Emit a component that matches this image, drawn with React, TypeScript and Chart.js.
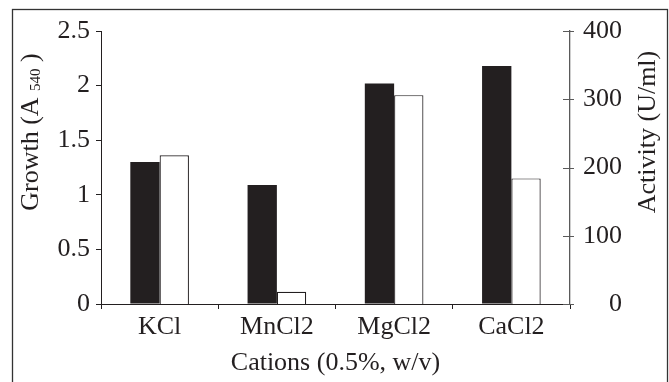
import React, { useEffect, useRef } from "react";
import { Chart, registerables } from "chart.js";

Chart.register(...registerables);

const categories = ["KCl", "MnCl2", "MgCl2", "CaCl2"];
const growthValues = [1.3, 1.09, 2.02, 2.18];
const activityValues = [218, 18, 306, 184];
const growthTicks = [0, 0.5, 1, 1.5, 2, 2.5];
const activityTicks = [0, 100, 200, 300, 400];

const xTitle = "Cations (0.5%, w/v)";
const yTitleMain = "Growth (A ";
const yTitleSub = "540";
const yTitleEnd = " )";
const y1Title = "Activity (U/ml)";

const FONT = "'Liberation Serif', 'Times New Roman', serif";
const INK = "#231f20";
const FS = 26;

const decorPlugin = {
  id: "decor",
  beforeDraw(chart: any) {
    const { ctx, width, height } = chart;
    ctx.save();
    ctx.fillStyle = "#ffffff";
    ctx.fillRect(0, 0, width, height);
    ctx.strokeStyle = "#333333";
    ctx.lineWidth = 1.3;
    ctx.strokeRect(12.5, 9.5, 655, height + 20);
    ctx.restore();
  },
  afterDraw(chart: any) {
    const { ctx, chartArea } = chart;
    const y1 = chart.scales.y1;
    ctx.save();
    // right axis tick marks crossing the axis
    ctx.strokeStyle = "#5a5a5a";
    ctx.lineWidth = 1;
    activityTicks.forEach((v) => {
      const py = Math.round(y1.getPixelForValue(v)) + 0.5;
      ctx.beginPath();
      ctx.moveTo(chartArea.right - 7, py);
      ctx.lineTo(chartArea.right + 4, py);
      ctx.stroke();
    });

    const cy = chartArea.top + 101;
    // left title with subscript
    ctx.fillStyle = INK;
    ctx.textBaseline = "alphabetic";
    ctx.textAlign = "left";
    const big = `${FS}px ${FONT}`;
    const small = `15px ${FONT}`;
    ctx.font = big;
    const w1 = ctx.measureText(yTitleMain).width;
    const w3 = ctx.measureText(yTitleEnd).width;
    ctx.font = small;
    const w2 = ctx.measureText(yTitleSub).width;
    const total = w1 + w2 + w3;
    ctx.save();
    ctx.translate(37.5, cy);
    ctx.rotate(-Math.PI / 2);
    let x = -total / 2;
    ctx.font = big;
    ctx.fillText(yTitleMain, x, 0);
    x += w1;
    ctx.font = small;
    ctx.fillText(yTitleSub, x, 2);
    x += w2;
    ctx.font = big;
    ctx.fillText(yTitleEnd, x, 0);
    ctx.restore();

    // right title
    ctx.save();
    ctx.font = big;
    ctx.textAlign = "center";
    ctx.translate(654.5, cy);
    ctx.rotate(-Math.PI / 2);
    ctx.fillText(y1Title, 0, 0);
    ctx.restore();

    ctx.restore();
  },
};

export default function App() {
  const ref = useRef<HTMLCanvasElement | null>(null);

  useEffect(() => {
    if (!ref.current) return;
    const chart = new Chart(ref.current, {
      type: "bar",
      data: {
        labels: categories,
        datasets: [
          {
            label: "Growth",
            data: growthValues,
            yAxisID: "y",
            backgroundColor: INK,
            borderColor: INK,
            borderWidth: 0,
            categoryPercentage: 0.5,
            barPercentage: 1.0,
          },
          {
            label: "Activity",
            data: activityValues,
            yAxisID: "y1",
            backgroundColor: "#ffffff",
            borderColor: INK,
            borderWidth: 1.2,
            borderSkipped: "bottom",
            categoryPercentage: 0.5,
            barPercentage: 1.0,
          },
        ],
      },
      options: {
        animation: false,
        responsive: true,
        maintainAspectRatio: false,
        layout: { padding: { top: 31, left: 0, right: 47, bottom: 0 } },
        plugins: {
          legend: { display: false },
          tooltip: { enabled: false },
        },
        scales: {
          x: {
            afterFit: (s: any) => {
              s.height = 78;
            },
            grid: {
              display: true,
              drawOnChartArea: false,
              drawTicks: true,
              tickLength: 5,
              color: INK,
              offset: true,
            },
            border: { display: true, color: INK, width: 1 },
            ticks: {
              color: INK,
              font: { family: FONT, size: FS },
              padding: 2.6,
              maxRotation: 0,
            },
            title: {
              display: true,
              text: xTitle,
              color: INK,
              font: { family: FONT, size: FS },
              padding: { top: 0, bottom: 3.2 },
            },
          },
          y: {
            position: "left",
            min: 0,
            max: 2.5,
            afterFit: (s: any) => {
              s.width = 101;
            },
            afterBuildTicks: (s: any) => {
              s.ticks = growthTicks.map((v) => ({ value: v }));
            },
            grid: {
              display: true,
              drawOnChartArea: false,
              drawTicks: true,
              tickLength: 5,
              color: INK,
            },
            border: { display: true, color: INK, width: 1 },
            ticks: {
              color: INK,
              font: { family: FONT, size: FS },
              padding: 6,
              callback: (v: any) => String(v),
            },
          },
          y1: {
            position: "right",
            min: 0,
            max: 400,
            afterFit: (s: any) => {
              s.width = 52;
            },
            afterBuildTicks: (s: any) => {
              s.ticks = activityTicks.map((v) => ({ value: v }));
            },
            grid: {
              display: false,
              drawOnChartArea: false,
              drawTicks: false,
            },
            border: { display: true, color: "#5a5a5a", width: 1.3 },
            ticks: {
              color: INK,
              font: { family: FONT, size: FS },
              padding: 14.5,
              crossAlign: "far",
              callback: (v: any) => String(v),
            },
          },
        },
      },
      plugins: [decorPlugin],
    });
    return () => chart.destroy();
  }, []);

  return (
    <div
      style={{
        position: "fixed",
        left: 0,
        top: 0,
        width: "669px",
        height: "382px",
        background: "#fff",
      }}
    >
      <canvas ref={ref} />
    </div>
  );
}
